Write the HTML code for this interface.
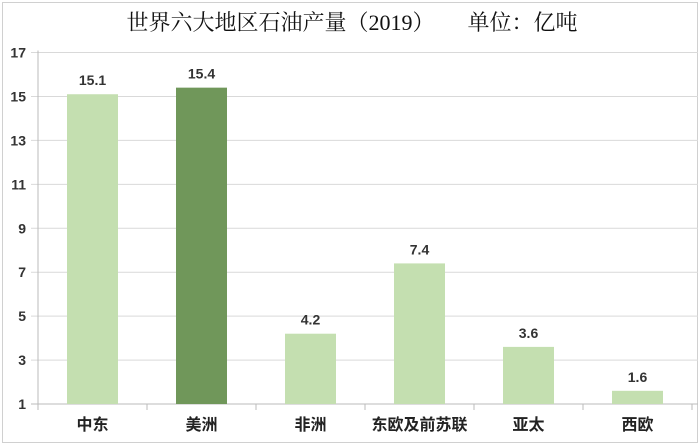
<!DOCTYPE html>
<html><head><meta charset="utf-8"><style>
body{margin:0;background:#fff;}
svg{display:block;font-family:"Liberation Sans","Noto Sans CJK SC",sans-serif;}
</style></head><body>
<svg width="700" height="445">
<rect x="2.5" y="2.5" width="695" height="440" fill="#fff" stroke="#d0d0d0"/>
<text x="352" y="30" text-anchor="middle" font-size="22" font-family="'Liberation Serif','Noto Serif CJK SC',serif" fill="#111" xml:space="preserve">世界六大地区石油产量（2019）      单位：亿吨</text>
<g id="grid"></g><g id="bars"></g><g id="axes"></g>
</svg>
<script>
const categories=["中东","美洲","非洲","东欧及前苏联","亚太","西欧"];
const values=[15.1,15.4,4.2,7.4,3.6,1.6];
const yTicks=[1,3,5,7,9,11,13,15,17];
const highlight=[false,true,false,false,false,false];
const NS="http://www.w3.org/2000/svg";
const x0=38,x1=692,yTop=52.5,yBot=404,vMin=1,vMax=17;
const bw=(x1-x0)/categories.length;
const y=v=>yBot-(v-vMin)/(vMax-vMin)*(yBot-yTop);
function mk(t,a,p){const e=document.createElementNS(NS,t);for(const k in a)e.setAttribute(k,a[k]);p.appendChild(e);return e;}
const grid=document.getElementById('grid'),bars=document.getElementById('bars'),axes=document.getElementById('axes');
yTicks.forEach(t=>{
 const l=mk('line',{x1:31,x2:698,y1:y(t),y2:y(t),stroke:t===vMin?'#bbb':'#d9d9d9','stroke-width':1},grid);
 
 
 const tx=mk('text',{x:26,y:y(t)+5,'text-anchor':'end','font-size':14,'font-weight':'bold',fill:'#333'},axes);
 tx.textContent=t;
 
 
});
const ax=mk('line',{x1:x0,x2:x0,y1:yTop-2,y2:yBot+6,stroke:'#bbb'},axes);


categories.forEach((c,i)=>{
 const cx=x0+bw*(i+0.5);
 const r=mk('rect',{x:cx-25.5,y:y(values[i]),width:51,height:yBot-y(values[i]),fill:highlight[i]?'#70975a':'#c4dfb0'},bars);
 
 
 const v=mk('text',{x:cx,y:y(values[i])-9,'text-anchor':'middle','font-size':14,'font-weight':'bold',fill:'#333'},bars);
 v.textContent=values[i].toFixed(1);
 
 
 const tk=mk('line',{x1:x0+bw*(i+1),x2:x0+bw*(i+1),y1:yBot,y2:yBot+6,stroke:'#bbb'},axes);
 
 
 const cl=mk('text',{x:cx,y:430,'text-anchor':'middle','font-size':16,'font-weight':'bold',fill:'#222','font-family':"'Noto Sans CJK SC',sans-serif"},axes);
 cl.textContent=c;
 
 
});
</script>
</body></html>
